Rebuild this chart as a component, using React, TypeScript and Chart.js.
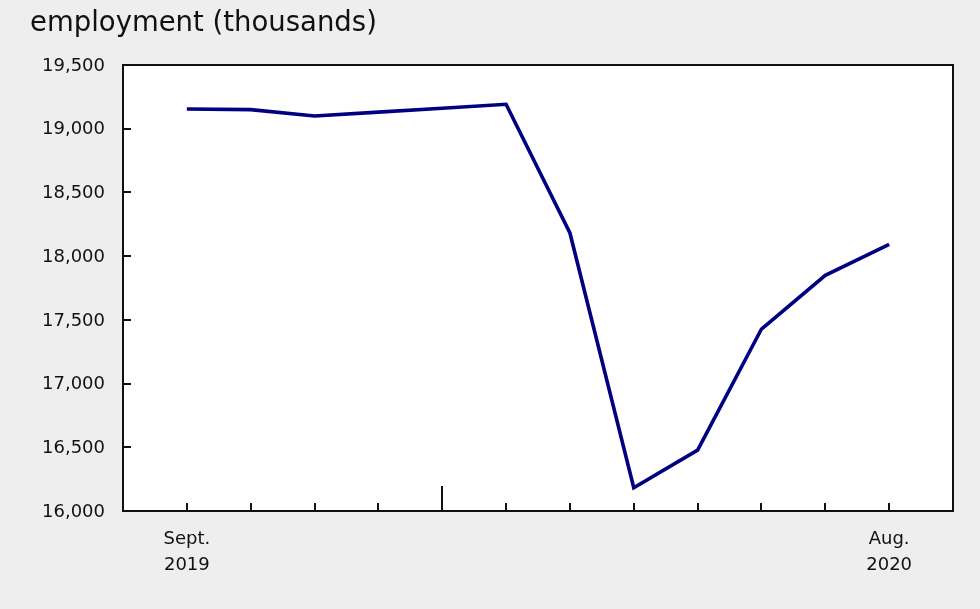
import React, { useEffect, useRef } from "react";
import { Chart, registerables } from "chart.js";

Chart.register(...registerables);

const months = ["Sept.", "Oct.", "Nov.", "Dec.", "Jan.", "Feb.", "Mar.", "Apr.", "May", "June", "July", "Aug."];
const tickLabels: string[][] = [["Sept.", "2019"], [], [], [], [], [], [], [], [], [], [], ["Aug.", "2020"]];
const employment = [19155, 19150, 19100, 19130, 19160, 19192, 18182, 16182, 16478, 17428, 17850, 18093];
const yearStartIndex = [4];
const titleText = "employment (thousands)";

const FONT = "'DejaVu Sans', Verdana, sans-serif";

const framePlugin = {
  id: "frame",
  beforeDraw(chart: any) {
    const { ctx, chartArea: a } = chart;
    ctx.save();
    ctx.fillStyle = "#eeeeee";
    ctx.fillRect(0, 0, chart.width, chart.height);
    ctx.fillStyle = "#ffffff";
    ctx.fillRect(a.left, a.top, a.right - a.left, a.bottom - a.top);
    ctx.fillStyle = "#111111";
    ctx.font = `27.5px ${FONT}`;
    ctx.textBaseline = "alphabetic";
    ctx.textAlign = "left";
    ctx.fillText(titleText, 30, 31);
    ctx.restore();
  },
  afterDatasetsDraw(chart: any) {
    const { ctx, chartArea: a, scales } = chart;
    const x = scales.x;
    const y = scales.y;
    ctx.save();
    ctx.strokeStyle = "#111111";
    ctx.lineWidth = 2;
    months.forEach((_, i) => {
      const px = Math.round(x.getPixelForValue(i));
      const len = yearStartIndex.includes(i) ? 25 : 8;
      ctx.beginPath();
      ctx.moveTo(px, a.bottom);
      ctx.lineTo(px, a.bottom - len);
      ctx.stroke();
    });
    for (let v = 16500; v < 19500; v += 500) {
      const py = Math.round(y.getPixelForValue(v));
      ctx.beginPath();
      ctx.moveTo(a.left, py);
      ctx.lineTo(a.left + 8, py);
      ctx.stroke();
    }
    ctx.lineWidth = 2;
    ctx.strokeRect(a.left, a.top, a.right - a.left, a.bottom - a.top);
    ctx.restore();
  },
};

export default function App() {
  const ref = useRef<HTMLCanvasElement>(null);
  useEffect(() => {
    document.body.style.margin = "0";
    const chart = new Chart(ref.current!, {
      type: "line",
      data: {
        datasets: [
          {
            data: employment.map((v, i) => ({ x: i, y: v })),
            borderColor: "#000080",
            borderWidth: 3.6,
            pointRadius: 0,
            tension: 0,
            fill: false,
          },
        ],
      },
      options: {
        animation: false,
        responsive: false,
        maintainAspectRatio: false,
        layout: { padding: { top: 65, right: 27, left: 0, bottom: 0 } },
        plugins: { legend: { display: false }, tooltip: { enabled: false }, title: { display: false } },
        scales: {
          x: {
            type: "linear",
            min: -1,
            max: 12,
            grid: { display: false, drawTicks: false },
            border: { display: false },
            afterFit: (s: any) => {
              s.height = 98;
            },
            afterBuildTicks: (s: any) => {
              s.ticks = months.map((_, i) => ({ value: i }));
            },
            ticks: {
              autoSkip: false,
              maxRotation: 0,
              padding: 15,
              color: "#111111",
              font: { family: FONT, size: 18, lineHeight: 1.45 },
              callback: (v: any) => tickLabels[v as number] ?? "",
            },
          },
          y: {
            type: "linear",
            min: 16000,
            max: 19500,
            grid: { display: false, drawTicks: false },
            border: { display: false },
            afterFit: (s: any) => {
              s.width = 123;
            },
            ticks: {
              stepSize: 500,
              padding: 18,
              labelOffset: 1,
              color: "#111111",
              font: { family: FONT, size: 18 },
              callback: (v: any) => Number(v).toLocaleString("en-US"),
            },
          },
        },
      },
      plugins: [framePlugin],
    });
    return () => chart.destroy();
  }, []);
  return (
    <div style={{ width: 980, height: 609 }}>
      <canvas ref={ref} width={980} height={609} style={{ display: "block" }} />
    </div>
  );
}
